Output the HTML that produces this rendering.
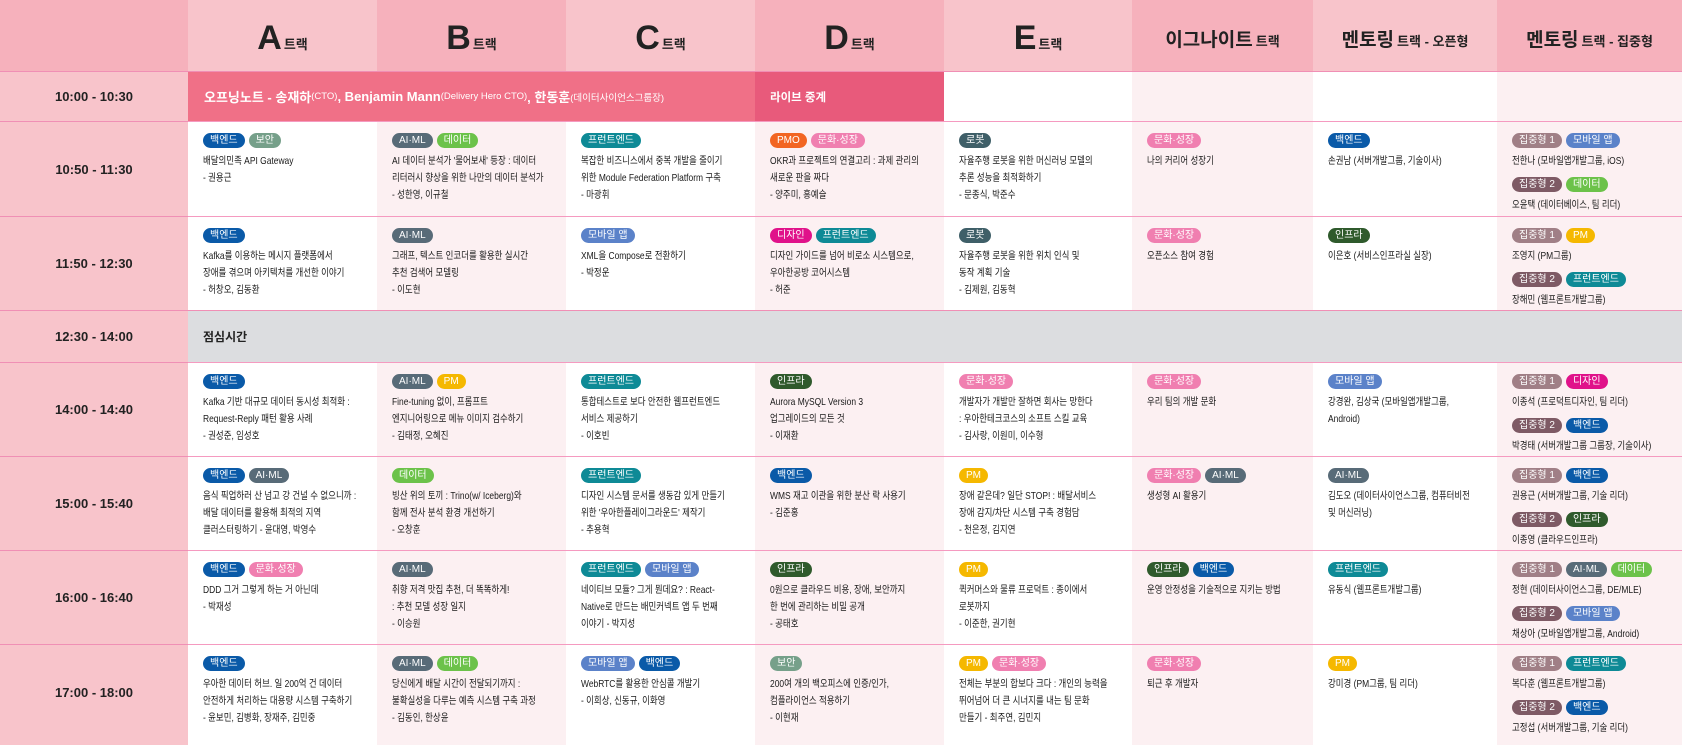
<!DOCTYPE html>
<html><head><meta charset="utf-8">
<style>
*{margin:0;padding:0;box-sizing:border-box}
body{width:1683px;height:745px;overflow:hidden;background:#fff;font-family:"Liberation Sans","Noto Sans CJK KR",sans-serif;color:#222;position:relative}
.g{display:grid;grid-template-columns:188px 189px 189px 189px 189px 188px 181px 184px 185px;grid-template-rows:71px 50px 95px 94px 52px 94px 94px 94px 95px 6px;width:1683px;height:745px}
.g>div{overflow:hidden}
.hd{display:flex;align-items:center;justify-content:center;padding-top:6px;font-weight:bold}
.hd b{font-size:34px;font-weight:900;letter-spacing:-1px}
.hd i{font-style:normal;font-size:13px;margin-left:3px;margin-top:10px}
.hd em{font-style:normal;font-size:19px;font-weight:bold}
.hd.k i{margin-top:4px}
.dk{background:#f6b1bc}.lt{background:#f8c4cb}
.tm{background:#f8c4cb;display:flex;align-items:center;justify-content:center;font-weight:bold;font-size:13px;border-top:1.5px solid #f08fb5}
.w{background:#fff}.p{background:#fcf0f2}
.c{padding:11px 15px 0 15px;border-top:1.5px solid #f59ac0;font-size:10.3px;line-height:17px}
.t{display:inline-block;height:15px;line-height:15px;padding:0 7px;border-radius:8px;color:#fff;font-size:10px;margin-right:4px;vertical-align:top}
.tl{margin-top:3px;white-space:nowrap;transform:scaleX(.82);transform-origin:left top;width:200px;color:#1a1a1a}
.m2{margin-top:7px}
.be{background:#0a5aa8}.sc{background:#76a08a}.ai{background:#586b78}.da{background:#6cc24a}.fe{background:#0e8a96}.pmo{background:#f26522}.cu{background:#f07fb0}.rb{background:#3f5f68}.mo{background:#5b82c9}.de{background:#e0128a}.pm{background:#f5b800}.inf{background:#2f5a2c}.j1{background:#a07f86}.j2{background:#7e5a65}
.key{grid-column:2/5;background:#f07087;color:#fff;font-weight:bold;font-size:13px;display:flex;align-items:center;padding-left:16px;border-top:1.5px solid #f08fb5;white-space:nowrap}
.key small{font-size:9.5px;font-weight:normal}
.live{background:#e85a7b;color:#fff;font-weight:bold;font-size:11.5px;display:flex;align-items:center;padding-left:15px;border-top:1.5px solid #f08fb5}
.lunch{grid-column:2/10;background:#dcdde0;font-weight:bold;font-size:12px;display:flex;align-items:center;padding-left:15px;border-top:1.5px solid #f08fb5}
.e{border-top:1.5px solid #f08fb5}
</style></head><body>
<div class="g">
<div class="dk"></div>
<div class="hd lt"><b>A</b><i>트랙</i></div>
<div class="hd dk"><b>B</b><i>트랙</i></div>
<div class="hd lt"><b>C</b><i>트랙</i></div>
<div class="hd dk"><b>D</b><i>트랙</i></div>
<div class="hd lt"><b>E</b><i>트랙</i></div>
<div class="hd dk k"><em>이그나이트</em><i>트랙</i></div>
<div class="hd lt k"><em>멘토링</em><i>트랙 - 오픈형</i></div>
<div class="hd dk k"><em>멘토링</em><i>트랙 - 집중형</i></div>
<div class="tm">10:00 - 10:30</div>
<div class="key">오프닝노트 - 송재하<small>(CTO)</small>, Benjamin Mann<small>(Delivery Hero CTO)</small>, 한동훈<small>(데이터사이언스그룹장)</small></div>
<div class="live">라이브 중계</div>
<div class="w e"></div><div class="p e"></div><div class="w e"></div><div class="p e"></div>
<div class="tm">10:50 - 11:30</div>
<div class="c w"><span class="t be">백엔드</span><span class="t sc">보안</span><div class="tl">배달의민족 API Gateway<br>- 권용근</div></div>
<div class="c p"><span class="t ai">AI·ML</span><span class="t da">데이터</span><div class="tl">AI 데이터 분석가 '물어보새' 등장 : 데이터<br>리터러시 향상을 위한 나만의 데이터 분석가<br>- 성한영, 이규철</div></div>
<div class="c w"><span class="t fe">프런트엔드</span><div class="tl">복잡한 비즈니스에서 중복 개발을 줄이기<br>위한 Module Federation Platform 구축<br>- 마광휘</div></div>
<div class="c p"><span class="t pmo">PMO</span><span class="t cu">문화·성장</span><div class="tl">OKR과 프로젝트의 연결고리 : 과제 관리의<br>새로운 판을 짜다<br>- 양주미, 홍예슬</div></div>
<div class="c w"><span class="t rb">로봇</span><div class="tl">자율주행 로봇을 위한 머신러닝 모델의<br>추론 성능을 최적화하기<br>- 문종식, 박준수</div></div>
<div class="c p"><span class="t cu">문화·성장</span><div class="tl">나의 커리어 성장기</div></div>
<div class="c w"><span class="t be">백엔드</span><div class="tl">손권남 (서버개발그룹, 기술이사)</div></div>
<div class="c p"><span class="t j1">집중형 1</span><span class="t mo">모바일 앱</span><div class="tl">전한나 (모바일앱개발그룹, iOS)</div><div class="m2"><span class="t j2">집중형 2</span><span class="t da">데이터</span></div><div class="tl">오윤택 (데이터베이스, 팀 리더)</div></div>
<div class="tm">11:50 - 12:30</div>
<div class="c w"><span class="t be">백엔드</span><div class="tl">Kafka를 이용하는 메시지 플랫폼에서<br>장애를 겪으며 아키텍처를 개선한 이야기<br>- 허창오, 김동환</div></div>
<div class="c p"><span class="t ai">AI·ML</span><div class="tl">그래프, 텍스트 인코더를 활용한 실시간<br>추천 검색어 모델링<br>- 이도현</div></div>
<div class="c w"><span class="t mo">모바일 앱</span><div class="tl">XML을 Compose로 전환하기<br>- 박정운</div></div>
<div class="c p"><span class="t de">디자인</span><span class="t fe">프런트엔드</span><div class="tl">디자인 가이드를 넘어 비로소 시스템으로,<br>우아한공방 코어시스템<br>- 허준</div></div>
<div class="c w"><span class="t rb">로봇</span><div class="tl">자율주행 로봇을 위한 위치 인식 및<br>동작 계획 기술<br>- 김제원, 김동혁</div></div>
<div class="c p"><span class="t cu">문화·성장</span><div class="tl">오픈소스 참여 경험</div></div>
<div class="c w"><span class="t inf">인프라</span><div class="tl">이은호 (서비스인프라실 실장)</div></div>
<div class="c p"><span class="t j1">집중형 1</span><span class="t pm">PM</span><div class="tl">조영지 (PM그룹)</div><div class="m2"><span class="t j2">집중형 2</span><span class="t fe">프런트엔드</span></div><div class="tl">장해민 (웹프론트개발그룹)</div></div>
<div class="tm">12:30 - 14:00</div>
<div class="lunch">점심시간</div>
<div class="tm">14:00 - 14:40</div>
<div class="c w"><span class="t be">백엔드</span><div class="tl">Kafka 기반 대규모 데이터 동시성 최적화 :<br>Request-Reply 패턴 활용 사례<br>- 권성준, 임성호</div></div>
<div class="c p"><span class="t ai">AI·ML</span><span class="t pm">PM</span><div class="tl">Fine-tuning 없이, 프롬프트<br>엔지니어링으로 메뉴 이미지 검수하기<br>- 김태정, 오혜진</div></div>
<div class="c w"><span class="t fe">프런트엔드</span><div class="tl">통합테스트로 보다 안전한 웹프런트엔드<br>서비스 제공하기<br>- 이호빈</div></div>
<div class="c p"><span class="t inf">인프라</span><div class="tl">Aurora MySQL Version 3<br>업그레이드의 모든 것<br>- 이재환</div></div>
<div class="c w"><span class="t cu">문화·성장</span><div class="tl">개발자가 개발만 잘하면 회사는 망한다<br>: 우아한테크코스의 소프트 스킬 교육<br>- 김사랑, 이원미, 이수형</div></div>
<div class="c p"><span class="t cu">문화·성장</span><div class="tl">우리 팀의 개발 문화</div></div>
<div class="c w"><span class="t mo">모바일 앱</span><div class="tl">강경완, 김상국 (모바일앱개발그룹,<br>Android)</div></div>
<div class="c p"><span class="t j1">집중형 1</span><span class="t de">디자인</span><div class="tl">이종석 (프로덕트디자인, 팀 리더)</div><div class="m2"><span class="t j2">집중형 2</span><span class="t be">백엔드</span></div><div class="tl">박경태 (서버개발그룹 그룹장, 기술이사)</div></div>
<div class="tm">15:00 - 15:40</div>
<div class="c w"><span class="t be">백엔드</span><span class="t ai">AI·ML</span><div class="tl">음식 픽업하러 산 넘고 강 건널 수 없으니까 :<br>배달 데이터를 활용해 최적의 지역<br>클러스터링하기 - 윤대영, 박영수</div></div>
<div class="c p"><span class="t da">데이터</span><div class="tl">빙산 위의 토끼 : Trino(w/ Iceberg)와<br>함께 전사 분석 환경 개선하기<br>- 오창훈</div></div>
<div class="c w"><span class="t fe">프런트엔드</span><div class="tl">디자인 시스템 문서를 생동감 있게 만들기<br>위한 '우아한플레이그라운드' 제작기<br>- 추용혁</div></div>
<div class="c p"><span class="t be">백엔드</span><div class="tl">WMS 재고 이관을 위한 분산 락 사용기<br>- 김준홍</div></div>
<div class="c w"><span class="t pm">PM</span><div class="tl">장애 같은데? 일단 STOP! : 배달서비스<br>장애 감지/차단 시스템 구축 경험담<br>- 천은정, 김지연</div></div>
<div class="c p"><span class="t cu">문화·성장</span><span class="t ai">AI·ML</span><div class="tl">생성형 AI 활용기</div></div>
<div class="c w"><span class="t ai">AI·ML</span><div class="tl">김도오 (데이터사이언스그룹, 컴퓨터비전<br>및 머신러닝)</div></div>
<div class="c p"><span class="t j1">집중형 1</span><span class="t be">백엔드</span><div class="tl">권용근 (서버개발그룹, 기술 리더)</div><div class="m2"><span class="t j2">집중형 2</span><span class="t inf">인프라</span></div><div class="tl">이종영 (클라우드인프라)</div></div>
<div class="tm">16:00 - 16:40</div>
<div class="c w"><span class="t be">백엔드</span><span class="t cu">문화·성장</span><div class="tl">DDD 그거 그렇게 하는 거 아닌데<br>- 박재성</div></div>
<div class="c p"><span class="t ai">AI·ML</span><div class="tl">취향 저격 맛집 추천, 더 똑똑하게!<br>: 추천 모델 성장 일지<br>- 이승원</div></div>
<div class="c w"><span class="t fe">프런트엔드</span><span class="t mo">모바일 앱</span><div class="tl">네이티브 모듈? 그게 뭔데요? : React-<br>Native로 만드는 배민커넥트 앱 두 번째<br>이야기 - 박지성</div></div>
<div class="c p"><span class="t inf">인프라</span><div class="tl">0원으로 클라우드 비용, 장애, 보안까지<br>한 번에 관리하는 비밀 공개<br>- 공태호</div></div>
<div class="c w"><span class="t pm">PM</span><div class="tl">퀵커머스와 물류 프로덕트 : 종이에서<br>로봇까지<br>- 이준한, 권기현</div></div>
<div class="c p"><span class="t inf">인프라</span><span class="t be">백엔드</span><div class="tl">운영 안정성을 기술적으로 지키는 방법</div></div>
<div class="c w"><span class="t fe">프런트엔드</span><div class="tl">유동식 (웹프론트개발그룹)</div></div>
<div class="c p"><span class="t j1">집중형 1</span><span class="t ai">AI·ML</span><span class="t da">데이터</span><div class="tl">정현 (데이터사이언스그룹, DE/MLE)</div><div class="m2"><span class="t j2">집중형 2</span><span class="t mo">모바일 앱</span></div><div class="tl">채상아 (모바일앱개발그룹, Android)</div></div>
<div class="tm">17:00 - 18:00</div>
<div class="c w"><span class="t be">백엔드</span><div class="tl">우아한 데이터 허브. 일 200억 건 데이터<br>안전하게 처리하는 대용량 시스템 구축하기<br>- 윤보민, 김병화, 장재주, 김민중</div></div>
<div class="c p"><span class="t ai">AI·ML</span><span class="t da">데이터</span><div class="tl">당신에게 배달 시간이 전달되기까지 :<br>불확실성을 다루는 예측 시스템 구축 과정<br>- 김동인, 한상윤</div></div>
<div class="c w"><span class="t mo">모바일 앱</span><span class="t be">백엔드</span><div class="tl">WebRTC를 활용한 안심콜 개발기<br>- 이희상, 신동규, 이화영</div></div>
<div class="c p"><span class="t sc">보안</span><div class="tl">200여 개의 백오피스에 인증/인가,<br>컴플라이언스 적용하기<br>- 이현재</div></div>
<div class="c w"><span class="t pm">PM</span><span class="t cu">문화·성장</span><div class="tl">전체는 부분의 합보다 크다 : 개인의 능력을<br>뛰어넘어 더 큰 시너지를 내는 팀 문화<br>만들기 - 최주연, 김민지</div></div>
<div class="c p"><span class="t cu">문화·성장</span><div class="tl">퇴근 후 개발자</div></div>
<div class="c w"><span class="t pm">PM</span><div class="tl">강미경 (PM그룹, 팀 리더)</div></div>
<div class="c p"><span class="t j1">집중형 1</span><span class="t fe">프런트엔드</span><div class="tl">복다훈 (웹프론트개발그룹)</div><div class="m2"><span class="t j2">집중형 2</span><span class="t be">백엔드</span></div><div class="tl">고정섭 (서버개발그룹, 기술 리더)</div></div>
<div style="background:#f8c4cb"></div>
<div class="w"></div><div class="p"></div><div class="w"></div><div class="p"></div><div class="w"></div><div class="p"></div><div class="w"></div><div class="p"></div>
</div>
</body></html>
